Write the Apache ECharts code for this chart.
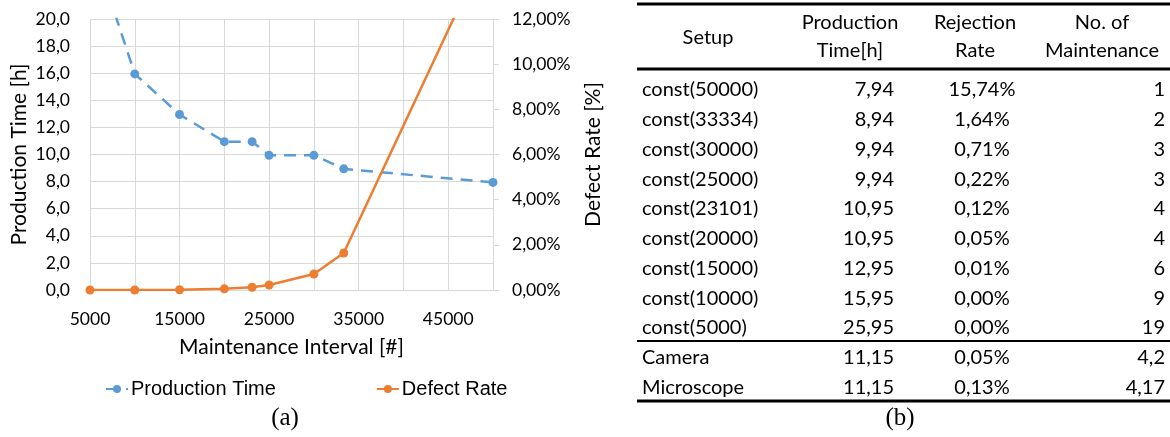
<!DOCTYPE html>
<html><head><meta charset="utf-8">
<script src="https://cdn.jsdelivr.net/npm/echarts@6/dist/echarts.min.js"></script>
<style>html,body{margin:0;padding:0;background:#fff}#c{width:1170px;height:437px}</style>
</head><body><div id="c"></div>
<script>
// ---- chart (a) data ----
const intervals = [5000, 10000, 15000, 20000, 23101, 25000, 30000, 33334, 50000];
const productionTime = [25.95, 15.95, 12.95, 10.95, 10.95, 9.94, 9.94, 8.94, 7.94];
const defectRate = [0.00, 0.00, 0.01, 0.05, 0.12, 0.22, 0.71, 1.64, 15.74];
const xTickLabels = [5000, 15000, 25000, 35000, 45000];
const seriesNames = ['Production Time', 'Defect Rate'];

// ---- table (b) data ----
const tableHeaders = [['Setup'], ['Production', 'Time[h]'], ['Rejection', 'Rate'], ['No. of', 'Maintenance']];
const tableSetups = ['const(50000)', 'const(33334)', 'const(30000)', 'const(25000)', 'const(23101)', 'const(20000)', 'const(15000)', 'const(10000)', 'const(5000)', 'Camera', 'Microscope'];
const tableProdTime = [7.94, 8.94, 9.94, 9.94, 10.95, 10.95, 12.95, 15.95, 25.95, 11.15, 11.15];
const tableRejection = [15.74, 1.64, 0.71, 0.22, 0.12, 0.05, 0.01, 0.00, 0.00, 0.05, 0.13];
const tableMaintenance = [1, 2, 3, 3, 4, 4, 6, 9, 19, 4.2, 4.17];

const comma = s => String(s).replace('.', ',');
const BLUE = '#5B9BD5', ORANGE = '#ED7D31', GRID = '#D9D9D9';
const AX_FONT = 'Lato';

// ---- table graphics ----
const T = { left: 637, right: 1170, top: 4, headLine: 69, sepLine: 341, bottom: 401, row0: 90, rowH: 29.75 };
const colX = [642, 894, 982, 1165];
const colAlign = ['left', 'right', 'center', 'right'];
const headX = [708, 850, 975, 1102];
const tFont = { fontSize: 20, fontFamily: 'Lato', fill: '#000' };
const graphics = [];
function txt(text, x, y, align, extra) {
  graphics.push({ type: 'text', silent: true, style: Object.assign({ text, x, y, textAlign: align, textVerticalAlign: 'middle' }, tFont, extra || {}) });
}
function hline(y, w) {
  graphics.push({ type: 'line', silent: true, shape: { x1: T.left, y1: y, x2: T.right, y2: y }, style: { stroke: '#000', lineWidth: w } });
}
hline(T.top, 3); hline(T.headLine, 3); hline(T.sepLine, 2); hline(T.bottom, 3);
tableHeaders.forEach((h, i) => {
  if (h.length === 1) txt(h[0], headX[i], 38, 'center');
  else { txt(h[0], headX[i], 23, 'center'); txt(h[1], headX[i], 51, 'center'); }
});
tableSetups.forEach((s, r) => {
  const y = T.row0 + r * T.rowH;
  txt(s, colX[0], y, colAlign[0]);
  txt(comma(tableProdTime[r].toFixed(2)), colX[1], y, colAlign[1]);
  txt(comma(tableRejection[r].toFixed(2)) + '%', colX[2], y, colAlign[2]);
  txt(comma(tableMaintenance[r]), colX[3], y, colAlign[3]);
});
// captions
txt('(a)', 285, 418, 'center', { fontFamily: 'Liberation Serif', fontSize: 25 });
txt('(b)', 900, 418, 'center', { fontFamily: 'Liberation Serif', fontSize: 25 });

const chart = echarts.init(document.getElementById('c'), null, { renderer: 'canvas' });
chart.setOption({
  animation: false,
  backgroundColor: '#fff',
  grid: { left: 90, right: 677, top: 19, bottom: 147, containLabel: false },
  legend: {
    data: seriesNames, left: 100, top: 374, itemGap: 100, itemWidth: 22, itemHeight: 10,
    textStyle: { fontFamily: 'Liberation Sans', fontSize: 20, color: '#000', padding: [0, 0, 0, -2] }
  },
  xAxis: {
    type: 'value', min: 5000, max: 50000, interval: 5000,
    name: 'Maintenance Interval [#]', nameLocation: 'middle', nameGap: 47,
    nameTextStyle: { fontFamily: AX_FONT, fontSize: 21, color: '#000' },
    axisLine: { show: true, lineStyle: { color: GRID, width: 1 } },
    axisTick: { show: false },
    axisLabel: { margin: 20, fontFamily: AX_FONT, fontSize: 17.5, color: '#000',
      formatter: v => xTickLabels.includes(v) ? String(v) : '' },
    splitLine: { show: true, lineStyle: { color: GRID, width: 1 } }
  },
  yAxis: [{
    type: 'value', min: 0, max: 20, interval: 2,
    name: 'Production Time [h]', nameLocation: 'middle', nameGap: 60,
    nameTextStyle: { fontFamily: AX_FONT, fontSize: 21, color: '#000' },
    axisLine: { show: false }, axisTick: { show: false },
    axisLabel: { margin: 20, fontFamily: AX_FONT, fontSize: 17.5, color: '#000', formatter: v => comma(v.toFixed(1)) },
    splitLine: { show: true, lineStyle: { color: GRID, width: 1 } }
  }, {
    type: 'value', min: 0, max: 12, interval: 2, position: 'right',
    name: 'Defect Rate [%]', nameLocation: 'middle', nameGap: 90, nameRotate: 90,
    nameTextStyle: { fontFamily: AX_FONT, fontSize: 21, color: '#000' },
    axisLine: { show: true, lineStyle: { color: GRID, width: 1 } },
    axisTick: { show: true, length: 6, lineStyle: { color: GRID } },
    axisLabel: { margin: 19, fontFamily: AX_FONT, fontSize: 17.5, color: '#000', formatter: v => comma(v.toFixed(2)) + '%' },
    splitLine: { show: false }
  }],
  series: [{
    name: seriesNames[0], type: 'line', yAxisIndex: 0,
    data: intervals.map((x, i) => [x, productionTime[i]]),
    symbol: 'circle', symbolSize: 9, clip: true,
    itemStyle: { color: BLUE },
    lineStyle: { color: BLUE, width: 2.5, type: [12, 8] }
  }, {
    name: seriesNames[1], type: 'line', yAxisIndex: 1,
    data: intervals.map((x, i) => [x, defectRate[i]]),
    symbol: 'circle', symbolSize: 9, clip: true,
    itemStyle: { color: ORANGE },
    lineStyle: { color: ORANGE, width: 2.5 }
  }],
  graphic: graphics
});
</script></body></html>
